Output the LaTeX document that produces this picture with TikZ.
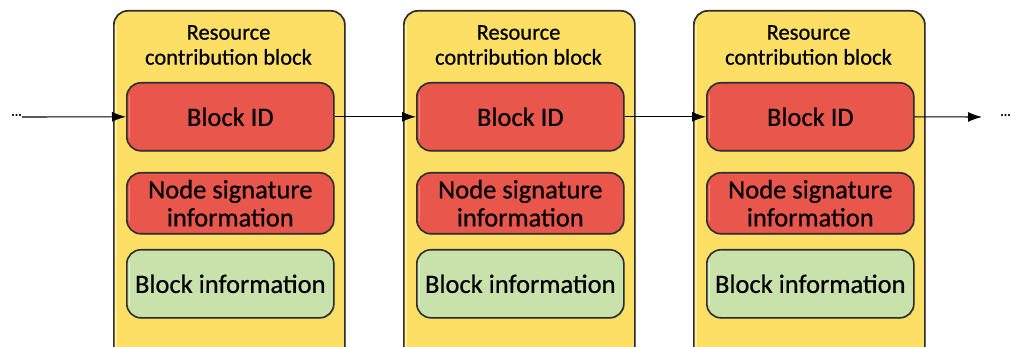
\documentclass[tikz,border=0pt]{standalone}
\usepackage{fontspec}
\setmainfont{Carlito}[FakeBold=0.6]
\usetikzlibrary{arrows.meta,shadows}
\definecolor{ylw}{HTML}{FDDF66}
\definecolor{ylwlt}{HTML}{FFEFA0}
\definecolor{rd}{HTML}{E9564B}
\definecolor{rdlt}{HTML}{F58A80}
\definecolor{grn}{HTML}{C9E2AB}
\definecolor{grnlt}{HTML}{E2F1D0}
\definecolor{edge}{HTML}{2E2E2E}
\tikzset{
  container/.style={draw=edge, line width=1.7pt, fill=ylw, rounded corners=14pt,
    minimum width=231pt, minimum height=350pt, inner sep=0pt, anchor=north west,
    drop shadow={shadow xshift=1.2pt, shadow yshift=-1.2pt, opacity=0.35}},
  inner/.style={draw=edge, line width=1.6pt, rounded corners=14pt,
    minimum width=207pt, inner sep=0pt, anchor=north west, align=center,
    font=\fontsize{26.5}{28}\selectfont,
    drop shadow={shadow xshift=1pt, shadow yshift=-1pt, opacity=0.35}},
  redbox/.style={inner, fill=rd},
  greenbox/.style={inner, fill=grn},
  title/.style={align=center, font=\fontsize{22.5}{25}\selectfont},
  flow/.style={-{Latex[length=14pt,width=10pt]}, line width=1.1pt, black},
  dots/.style={font=\fontsize{14}{14}\selectfont}
}
\begin{document}
\begin{tikzpicture}[x=1pt,y=-1pt]
\useasboundingbox (0,0) rectangle (1011,347);
\foreach \i/\dx in {1/0,2/290,3/580}{
  \node[container] (c\i) at (113+\dx,10) {};
  \node[title] (t\i) at (228.5+\dx,45) {Resource\\contribution block};
  \node[redbox, minimum height=68pt] (id\i) at (126+\dx,82) {Block ID};
  \node[redbox, minimum height=61pt] (sig\i) at (126+\dx,172) {Node signature\\information};
  \node[greenbox, minimum height=68pt] (inf\i) at (126+\dx,249) {Block information};
  % highlights
  \draw[ylwlt, line width=1.2pt] ([xshift=3pt,yshift=-14pt]c\i.north west) -- ([xshift=3pt,yshift=14pt]c\i.south west);
  \draw[rdlt, line width=1.6pt, line cap=round] ([xshift=3.5pt,yshift=-14pt]id\i.north west) -- ([xshift=3.5pt,yshift=14pt]id\i.south west);
  \draw[rdlt, line width=1.6pt, line cap=round] ([xshift=3.5pt,yshift=-14pt]sig\i.north west) -- ([xshift=3.5pt,yshift=14pt]sig\i.south west);
  \draw[grnlt, line width=1.6pt, line cap=round] ([xshift=3.5pt,yshift=-14pt]inf\i.north west) -- ([xshift=3.5pt,yshift=14pt]inf\i.south west);
}
\node[dots, anchor=east, inner sep=0pt] (ldots) at (22,115) {...};
\coordinate (lstart) at (22,117);
\coordinate (rend) at (982,117);
\node[dots, anchor=west, inner sep=0pt] (rdots) at (1000,115) {...};
\draw[flow] (lstart) -- (id1.west);
\draw[flow] (id1.east) -- (id2.west);
\draw[flow] (id2.east) -- (id3.west);
\draw[flow] (id3.east) -- (rend);
\end{tikzpicture}
\end{document}
